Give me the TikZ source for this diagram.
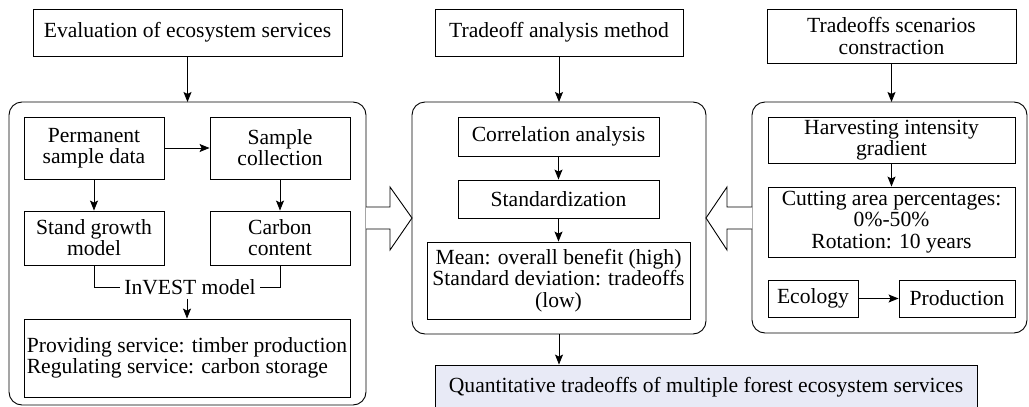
\documentclass[tikz,border=0pt]{standalone}
\usepackage{fontspec}
\setmainfont{Liberation Serif}
\usetikzlibrary{arrows.meta}
\definecolor{finalfill}{RGB}{232,234,246}
\begin{document}
\begin{tikzpicture}[x=1pt,y=-1pt,
  every node/.style={font=\fontsize{21.6}{21.2}\selectfont, inner sep=1pt},
  box/.style={draw, line width=0.9pt, align=center},
  bigbox/.style={draw, line width=0.9pt, rounded corners=13pt},
  arr/.style={line width=0.9pt, -{Stealth[length=10pt,width=8pt,inset=2pt]}},
  plain/.style={line width=0.9pt},
  hollow/.style={draw, line width=0.9pt, fill=white}
]
\useasboundingbox (0,0) rectangle (1029,407);

% top boxes
\node[box, minimum width=309pt, minimum height=47pt] (eval) at (187.5,32.5) {Evaluation of ecosystem services};
\node[box, minimum width=248pt, minimum height=47pt] (trade) at (559,32.5) {Tradeoff analysis method};
\node[box, minimum width=249pt, minimum height=54pt] (scen) at (891.5,36) {Tradeoffs scenarios\\constraction};

% big rounded containers
\draw[bigbox] (9,102) rectangle (366,405);
\coordinate (leftbigN) at (187.5,102);
\draw[bigbox] (412,102) rectangle (706,334);
\coordinate (midbigN) at (559,102);
\coordinate (midbigS) at (559,334);
\draw[bigbox] (752,102) rectangle (1027,333);
\coordinate (rightbigN) at (891.5,102);

% left panel
\node[box, minimum width=140pt, minimum height=62pt] (perm) at (94,148) {Permanent\\sample data};
\node[box, minimum width=140pt, minimum height=62pt] (samp) at (280,148) {Sample\\collection};
\node[box, minimum width=140pt, minimum height=54pt] (stand) at (94,238) {Stand growth\\model};
\node[box, minimum width=140pt, minimum height=54pt] (carbon) at (280,238) {Carbon\\content};
\node[inner sep=4pt] (invest) at (190,287) {InVEST model};
\node[box, align=left, minimum width=326pt, minimum height=78pt] (provide) at (187,358) {Providing service: timber production\\Regulating service: carbon storage};

% middle panel
\node[box, minimum width=201pt, minimum height=39pt] (corr) at (558.5,136.5) {Correlation analysis};
\node[box, minimum width=201pt, minimum height=38pt] (std) at (558.5,199) {Standardization};
\node[box, minimum width=263pt, minimum height=77pt] (mean) at (558.5,280.5) {Mean: overall benefit (high)\\Standard deviation: tradeoffs\\(low)};

% right panel
\node[box, minimum width=247pt, minimum height=46pt] (harv) at (891.5,140) {Harvesting intensity\\gradient};
\node[box, minimum width=247pt, minimum height=70pt] (cut) at (891.5,222) {Cutting area percentages:\\0\%-50\%\\Rotation: 10 years};
\node[box, minimum width=90pt, minimum height=37pt] (eco) at (813,298.5) {Ecology};
\node[box, minimum width=116pt, minimum height=37pt] (prod) at (957,298.5) {Production};

% final
\node[box, fill=finalfill, minimum width=542pt, minimum height=45pt] (final) at (706,387.5) {Quantitative tradeoffs of multiple forest ecosystem services};

% arrows
\draw[arr] (eval.south) -- (leftbigN);
\draw[arr] (trade.south) -- (midbigN);
\draw[arr] (scen.south) -- (scen.south |- rightbigN);
\draw[arr] (perm.east) -- (samp.west);
\draw[arr] (perm.south) -- (stand.north);
\draw[arr] (samp.south) -- (carbon.north);
\draw[plain] (stand.south) |- (invest.west);
\draw[plain] (carbon.south) |- (invest.east);
\draw[arr] (invest.south -| provide.north) -- (provide.north);
\draw[arr] (corr.south) -- (std.north);
\draw[arr] (std.south) -- (mean.north);
\draw[arr] (harv.south) -- (cut.north);
\draw[arr] (eco.east) -- (prod.west);
\draw[arr] (midbigS) -- (midbigS |- final.north);

% hollow block arrows
\draw[hollow] (366,207) -- (390,207) -- (390,187) -- (412,218) -- (390,250) -- (390,229) -- (366,229);
\draw[hollow] (752,207) -- (727,207) -- (727,187) -- (706,218) -- (727,250) -- (727,229) -- (752,229);
\end{tikzpicture}
\end{document}
